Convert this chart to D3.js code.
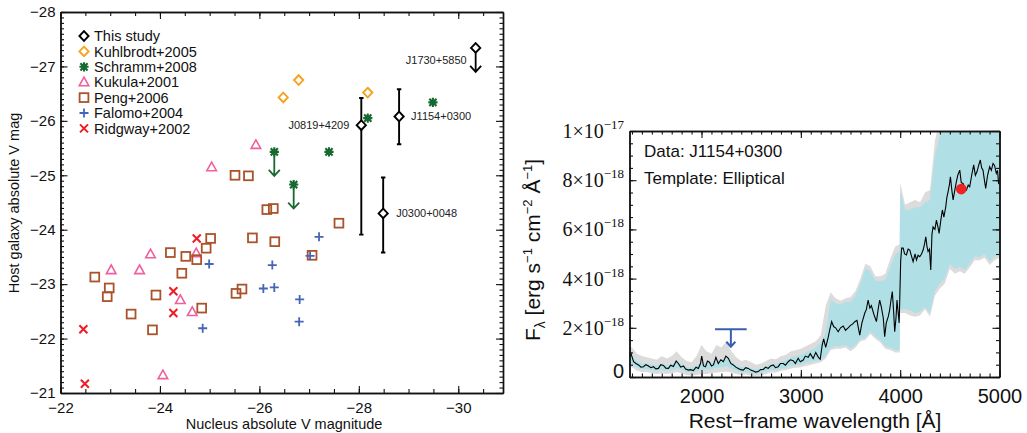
<!DOCTYPE html>
<html><head><meta charset="utf-8">
<script src="https://cdn.jsdelivr.net/npm/d3@7"></script>
<style>
html,body{margin:0;padding:0;background:#fff;}
svg{display:block;font-family:"Liberation Sans",Arial,Helvetica,sans-serif;}
</style></head><body>
<svg id="c" width="1027" height="433"></svg>
<script>
// ---------------- LEFT PANEL DATA ----------------
const legendLabels = ["This study","Kuhlbrodt+2005","Schramm+2008","Kukula+2001","Peng+2006","Falomo+2004","Ridgway+2002"];
const leftXTicks = [-22,-24,-26,-28,-30];
const leftYTicks = [-28,-27,-26,-25,-24,-23,-22,-21];

const studyNames = ["J1730+5850","J0819+4209","J1154+0300","J0300+0048"];
const studyNuc   = [-30.35,-28.05,-28.81,-28.49];
const studyHost  = [-27.34,-25.92,-26.08,-24.30];
const studyErrBright = [null,-26.42,-26.58,-24.96];
const studyErrFaint  = [null,-23.91,-25.57,-23.58];
const studyLimit = [true,false,false,false];

const kuhlNuc  = [-26.48,-26.79,-28.18];
const kuhlHost = [-26.43,-26.75,-26.52];

const schrNuc   = [-28.18,-29.49,-27.40,-26.30,-26.69];
const schrHost  = [-26.05,-26.34,-25.43,-25.43,-24.83];
const schrLimit = [false,false,false,true,true];

const kukNuc  = [-25.93,-25.04,-23.02,-23.59,-23.81,-24.41,-24.65,-24.73,-24.06];
const kukHost = [-25.56,-25.15,-23.26,-23.26,-23.55,-22.71,-22.49,-23.57,-21.33];

const pengNuc  = [-25.51,-25.78,-26.15,-26.28,-25.02,-25.86,-26.31,-24.93,-24.74,-24.52,-24.21,-24.44,-22.69,-22.98,-22.94,-23.92,-23.42,-23.85,-24.84,-25.53,-25.65,-27.06,-27.60];
const pengHost = [-25.00,-24.99,-24.37,-24.39,-23.84,-23.85,-23.78,-23.66,-23.45,-23.51,-23.58,-23.20,-23.13,-22.93,-22.77,-22.80,-22.45,-22.16,-22.56,-22.83,-22.91,-23.53,-24.12];

const falNuc  = [-24.99,-24.86,-26.26,-26.08,-26.30,-26.81,-26.80,-27.20,-27.02];
const falHost = [-23.37,-22.19,-23.35,-22.92,-22.94,-22.72,-22.31,-23.87,-23.52];

const ridNuc  = [-22.46,-22.49,-24.27,-24.27,-24.74];
const ridHost = [-22.17,-21.17,-22.87,-22.47,-23.84];

// ---------------- RIGHT PANEL DATA (flux in 1e-18 erg/s/cm2/A) ----------------
const rightXTicks = [2000,3000,4000,5000];
const rightYTickVals = [0,2,4,6,8,10];
const rightYTickMant = ["0","2","4","6","8","1"];
const rightYTickExp  = ["","−18","−18","−18","−18","−17"];

const specWave = [1275,1290,1316,1340,1366,1390,1416,1440,1466,1490,1516,1540,1566,1590,1617,1640,1667,1690,1717,1745,1767,1790,1818,1840,1868,1890,1918,1945,1968,1990,2002,2020,2040,2060,2080,2100,2120,2145,2169,2195,2220,2245,2270,2295,2320,2345,2370,2395,2421,2445,2471,2495,2521,2545,2571,2595,2622,2645,2672,2695,2722,2745,2772,2795,2823,2845,2873,2895,2923,2945,2973,2995,3024,3045,3074,3095,3124,3150,3174,3195,3215,3230,3250,3275,3290,3310,3330,3350,3376,3400,3426,3450,3476,3500,3520,3543,3565,3593,3615,3644,3660,3677,3695,3710,3735,3761,3780,3794,3810,3830,3844,3860,3880,3894,3910,3921,3935,3945,3958,3968,3980,3990,4005,4015,4030,4045,4063,4080,4097,4115,4130,4150,4164,4180,4197,4215,4231,4245,4258,4270,4281,4295,4308,4320,4331,4350,4365,4380,4392,4410,4425,4440,4459,4470,4482,4495,4506,4520,4533,4550,4566,4580,4600,4615,4633,4650,4667,4685,4700,4720,4740,4757,4774,4790,4807,4820,4834,4848,4861,4880,4901,4918,4935,4950,4968,4980,4991,5000];
const specFlux = [0.85,0.95,0.62,0.55,0.49,0.40,0.42,0.50,0.45,0.38,0.42,0.33,0.35,0.50,0.47,0.36,0.35,0.48,0.43,0.65,0.55,0.40,0.45,0.32,0.28,0.30,0.26,0.40,0.35,0.55,0.85,0.45,0.42,0.65,0.60,0.45,0.49,0.80,0.55,0.70,0.62,0.85,0.76,0.55,0.49,0.40,0.35,0.30,0.28,0.38,0.35,0.28,0.24,0.20,0.22,0.30,0.31,0.40,0.35,0.45,0.49,0.38,0.42,0.55,0.55,0.48,0.62,0.70,0.66,0.55,0.76,0.62,0.69,0.85,0.80,0.95,0.75,1.00,0.82,0.72,1.30,1.55,1.20,1.60,1.90,2.25,2.05,2.00,1.84,2.00,2.07,1.90,2.00,2.10,2.15,2.25,2.30,1.70,2.20,2.60,2.75,3.13,2.80,2.90,2.55,2.25,2.80,3.13,2.85,2.40,1.64,2.20,2.45,2.72,3.20,3.47,2.60,1.84,2.40,3.13,2.60,2.20,4.70,5.24,5.24,5.00,4.96,5.20,5.16,4.90,4.69,5.00,4.76,4.95,4.89,5.00,5.16,5.40,5.70,5.30,5.10,5.20,4.35,5.80,6.10,6.00,6.38,6.10,5.84,6.40,6.79,6.50,6.92,7.30,7.53,7.80,8.14,7.60,7.20,7.60,7.94,8.20,8.41,7.90,7.87,7.70,7.60,7.80,7.73,8.20,8.62,8.20,8.35,8.60,8.82,8.50,8.41,8.00,7.67,8.20,8.55,8.40,8.68,8.60,8.28,8.40,7.87,7.90];

const bandWave = [1275,1300,1350,1400,1450,1500,1550,1600,1650,1700,1750,1800,1850,1900,1950,2000,2050,2100,2150,2200,2250,2300,2350,2400,2450,2500,2550,2600,2650,2700,2750,2800,2850,2900,2950,3000,3050,3100,3150,3200,3250,3300,3350,3400,3450,3500,3550,3600,3650,3700,3750,3800,3850,3900,3950,3995,4000,4050,4100,4150,4200,4250,4300,4350,4400,4450,4500,4550,4600,4650,4700,4750,4800,4850,4900,4950,5000];
const templLo = [0.55,0.50,0.38,0.32,0.32,0.28,0.25,0.28,0.25,0.28,0.35,0.30,0.20,0.18,0.22,0.30,0.30,0.30,0.38,0.40,0.45,0.35,0.25,0.18,0.20,0.15,0.12,0.15,0.22,0.28,0.28,0.35,0.38,0.45,0.48,0.50,0.58,0.62,0.65,0.70,0.85,1.20,1.25,1.25,1.30,1.15,1.30,1.55,1.60,1.85,1.65,1.50,1.25,1.20,1.10,1.10,2.75,2.75,2.70,2.60,2.65,2.85,2.60,3.50,3.80,4.00,4.60,4.40,4.47,4.35,4.60,4.90,4.88,5.00,4.70,4.90,5.00];
const templHi = [0.95,0.85,0.65,0.55,0.55,0.50,0.48,0.52,0.48,0.52,0.62,0.52,0.40,0.38,0.45,0.60,0.58,0.55,0.68,0.70,0.80,0.62,0.48,0.40,0.42,0.35,0.30,0.35,0.45,0.52,0.52,0.62,0.68,0.80,0.85,0.90,1.00,1.10,1.20,1.40,1.80,3.15,3.00,2.95,3.05,3.05,3.30,3.80,4.40,4.30,3.90,3.90,3.95,4.45,5.00,5.10,7.50,6.80,6.80,6.90,6.90,7.10,7.20,9.00,9.80,10.5,10.5,10.5,10.5,10.5,10.5,10.5,10.5,10.5,10.5,10.5,10.5];
const errLo = [0.45,0.40,0.25,0.20,0.20,0.15,0.12,0.15,0.12,0.15,0.20,0.15,0.08,0.05,0.08,0.12,0.12,0.15,0.18,0.20,0.22,0.18,0.12,0.08,0.10,0.05,0.04,0.06,0.12,0.18,0.18,0.25,0.28,0.35,0.38,0.40,0.45,0.50,0.55,0.60,0.75,1.10,1.15,1.15,1.20,1.05,1.20,1.45,1.50,1.75,1.55,1.40,1.15,1.10,1.00,1.00,2.60,2.60,2.50,2.45,2.50,2.75,2.45,3.30,3.60,3.80,4.40,4.20,4.30,4.20,4.45,4.75,4.75,4.85,4.55,4.75,4.85];
const errHi = [1.25,1.20,0.95,0.85,0.80,0.75,0.70,0.85,0.75,0.85,1.05,0.80,0.65,0.60,0.85,1.30,1.05,0.95,1.30,1.20,1.45,1.05,0.80,0.65,0.70,0.60,0.50,0.55,0.65,0.75,0.72,0.85,0.90,1.05,1.10,1.15,1.25,1.35,1.45,1.70,2.90,3.45,3.20,3.10,3.20,3.25,3.50,4.00,4.60,4.50,4.10,4.10,4.20,4.80,5.30,5.40,7.90,7.00,7.10,7.20,7.10,7.50,7.60,9.60,10.5,10.5,10.5,10.5,10.5,10.5,10.5,10.5,10.5,10.5,10.5,10.5,10.5];

const photWave = [4615];
const photFlux = [7.64];
const limitWaveLo = 2136, limitWaveHi = 2455, limitFlux = 1.94, limitArrowTo = 1.23;

// ---------------- DRAW ----------------
const svg = d3.select("#c");
svg.append("rect").attr("width",1027).attr("height",433).attr("fill","#fff");

const xL = d3.scaleLinear().domain([-22,-30.9]).range([60.5,503]);
const yL = d3.scaleLinear().domain([-28,-21]).range([12,393]);

function styleAxis(g){
  g.selectAll(".domain").attr("stroke","#111").attr("stroke-width",1.4);
  g.selectAll(".tick line").attr("stroke","#111").attr("stroke-width",1.1);
}

const L = svg.append("g");
function lAxes(){
  const minorX = d3.range(-22,-30.9,-0.5);
  const minorY = d3.range(-28,-21,0.1);
  const b = L.append("g").attr("transform","translate(0,393)")
    .call(d3.axisBottom(xL).tickValues(leftXTicks).tickSize(-7).tickSizeOuter(0).tickPadding(9).tickFormat(d3.format("d")));
  b.selectAll("text").attr("font-size",15).attr("fill","#111");
  styleAxis(b);
  styleAxis(L.append("g").attr("transform","translate(0,393)")
    .call(d3.axisBottom(xL).tickValues(minorX).tickSize(-4).tickSizeOuter(0).tickFormat("")));
  styleAxis(L.append("g").attr("transform","translate(0,12)")
    .call(d3.axisTop(xL).tickValues(leftXTicks).tickSize(-7).tickSizeOuter(0).tickFormat("")));
  styleAxis(L.append("g").attr("transform","translate(0,12)")
    .call(d3.axisTop(xL).tickValues(minorX).tickSize(-4).tickSizeOuter(0).tickFormat("")));
  const l = L.append("g").attr("transform","translate(60.5,0)")
    .call(d3.axisLeft(yL).tickValues(leftYTicks).tickSize(-7).tickSizeOuter(0).tickPadding(5).tickFormat(d3.format("d")));
  l.selectAll("text").attr("font-size",15).attr("fill","#111");
  styleAxis(l);
  styleAxis(L.append("g").attr("transform","translate(60.5,0)")
    .call(d3.axisLeft(yL).tickValues(minorY).tickSize(-3.5).tickSizeOuter(0).tickFormat("")));
  styleAxis(L.append("g").attr("transform","translate(503,0)")
    .call(d3.axisRight(yL).tickValues(leftYTicks).tickSize(-7).tickSizeOuter(0).tickFormat("")));
  styleAxis(L.append("g").attr("transform","translate(503,0)")
    .call(d3.axisRight(yL).tickValues(minorY).tickSize(-3.5).tickSizeOuter(0).tickFormat("")));
  L.append("text").attr("x",284).attr("y",429).attr("text-anchor","middle").attr("font-size",14.5).attr("fill","#111")
    .text("Nucleus absolute V magnitude");
  L.append("text").attr("transform","translate(19,203) rotate(-90)").attr("text-anchor","middle").attr("font-size",14.5).attr("fill","#111")
    .text("Host galaxy absolute V mag");
}
lAxes();

const C = {study:"#000", kuhl:"#f8a21c", schr:"#17692f", kuk:"#f0609e", peng:"#a9532a", fal:"#4566b8", rid:"#ee1c24"};

function sym(g,type,cx,cy,color){
  const s = g.append("g").attr("fill","none").attr("stroke",color).attr("stroke-width",1.8);
  if(type==="diamond"){
    s.append("path").attr("d",`M${cx},${cy-4.8}L${cx+4.6},${cy}L${cx},${cy+4.8}L${cx-4.6},${cy}Z`).attr("stroke-width",1.9);
  } else if(type==="square"){
    s.append("rect").attr("x",cx-4.4).attr("y",cy-4.4).attr("width",8.8).attr("height",8.8);
  } else if(type==="triangle"){
    s.append("path").attr("d",`M${cx},${cy-5}L${cx+4.8},${cy+3.6}L${cx-4.8},${cy+3.6}Z`).attr("stroke-width",1.6);
  } else if(type==="plus"){
    s.append("path").attr("d",`M${cx-4.5},${cy}H${cx+4.5}M${cx},${cy-4.5}V${cy+4.5}`).attr("stroke-width",1.8);
  } else if(type==="cross"){
    s.append("path").attr("d",`M${cx-4},${cy-4}L${cx+4},${cy+4}M${cx-4},${cy+4}L${cx+4},${cy-4}`).attr("stroke-width",2);
  } else if(type==="aster"){
    s.append("path").attr("d",`M${cx-4.6},${cy}H${cx+4.6}M${cx},${cy-4.6}V${cy+4.6}M${cx-3.6},${cy-3.6}L${cx+3.6},${cy+3.6}M${cx-3.6},${cy+3.6}L${cx+3.6},${cy-3.6}`).attr("stroke-width",2.1);
    s.append("rect").attr("x",cx-2.4).attr("y",cy-2.4).attr("width",4.8).attr("height",4.8).attr("fill",color).attr("stroke","none");
  }
}
function downArrow(g,cx,y0,y1,color){
  g.append("path").attr("d",`M${cx},${y0}V${y1}M${cx-5.5},${y1-6}L${cx},${y1}L${cx+5.5},${y1-6}`)
    .attr("fill","none").attr("stroke",color).attr("stroke-width",1.8);
}

const P = L.append("g");
kukNuc.forEach((v,i)=>sym(P,"triangle",xL(v),yL(kukHost[i]),C.kuk));
pengNuc.forEach((v,i)=>sym(P,"square",xL(v),yL(pengHost[i]),C.peng));
falNuc.forEach((v,i)=>sym(P,"plus",xL(v),yL(falHost[i]),C.fal));
ridNuc.forEach((v,i)=>sym(P,"cross",xL(v),yL(ridHost[i]),C.rid));
kuhlNuc.forEach((v,i)=>sym(P,"diamond",xL(v),yL(kuhlHost[i]),C.kuhl));
schrNuc.forEach((v,i)=>{
  const cx=xL(v), cy=yL(schrHost[i]);
  if(schrLimit[i]) downArrow(P,cx,cy+3,cy+24,C.schr);
  sym(P,"aster",cx,cy,C.schr);
});
const labelLayout = [{dx:-9,dy:12,anchor:"end"},{dx:-12,dy:0,anchor:"end"},{dx:12,dy:0,anchor:"start"},{dx:13,dy:0,anchor:"start"}];
studyNuc.forEach((v,i)=>{
  const cx=xL(v), cy=yL(studyHost[i]);
  if(studyErrBright[i]!==null){
    const y0=yL(studyErrBright[i]), y1=yL(studyErrFaint[i]);
    P.append("path").attr("d",`M${cx},${y0}V${y1}M${cx-2.2},${y0}H${cx+2.2}M${cx-2.2},${y1}H${cx+2.2}`)
      .attr("stroke","#000").attr("stroke-width",1.9).attr("fill","none");
  }
  if(studyLimit[i]) downArrow(P,cx,cy+4,cy+24,"#000");
  P.append("path").attr("d",`M${cx},${cy-4.8}L${cx+4.6},${cy}L${cx},${cy+4.8}L${cx-4.6},${cy}Z`)
    .attr("fill","#fff").attr("stroke","#000").attr("stroke-width",1.9);
  const lo=labelLayout[i];
  P.append("text").attr("x",cx+lo.dx).attr("y",cy+lo.dy).attr("dy","0.35em").attr("text-anchor",lo.anchor)
    .attr("font-size",11).attr("fill","#222").text(studyNames[i]);
});

const legTypes = ["diamond","diamond","aster","triangle","square","plus","cross"];
const legColors = [C.study,C.kuhl,C.schr,C.kuk,C.peng,C.fal,C.rid];
legendLabels.forEach((lab,i)=>{
  const y = 36 + i*15.4;
  sym(L,legTypes[i],84,y,legColors[i]);
  L.append("text").attr("x",94).attr("y",y).attr("dy","0.36em").attr("font-size",14.5).attr("fill","#111").text(lab);
});

// ---------------- RIGHT PANEL ----------------
const xR = d3.scaleLinear().domain([1275,5000]).range([629.5,999.5]);
const yR = d3.scaleLinear().domain([0,10]).range([377,131]);
const R = svg.append("g");
R.append("defs").append("clipPath").attr("id","clipR").append("rect")
  .attr("x",629.5).attr("y",131).attr("width",370).attr("height",246);
const plot = R.append("g").attr("clip-path","url(#clipR)");
const bandIdx = d3.range(bandWave.length);
plot.append("path").datum(bandIdx)
  .attr("d",d3.area().x(i=>xR(bandWave[i])).y0(i=>yR(errLo[i])).y1(i=>yR(errHi[i])))
  .attr("fill","#dcdcdc");
plot.append("path").datum(bandIdx)
  .attr("d",d3.area().x(i=>xR(bandWave[i])).y0(i=>yR(templLo[i])).y1(i=>yR(templHi[i])))
  .attr("fill","#b0e0e6");
plot.append("path").datum(d3.range(specWave.length))
  .attr("d",d3.line().x(i=>xR(specWave[i])).y(i=>yR(specFlux[i])))
  .attr("fill","none").attr("stroke","#000").attr("stroke-width",1.1);
photWave.forEach((w,i)=>{
  plot.append("circle").attr("cx",xR(w)).attr("cy",yR(photFlux[i])).attr("r",5.4).attr("fill","#f02222");
});
const lx = xR((limitWaveLo+limitWaveHi)/2);
R.append("path").attr("d",`M${xR(limitWaveLo)},${yR(limitFlux)}H${xR(limitWaveHi)}M${lx},${yR(limitFlux)}V${yR(limitArrowTo)}M${lx-4.5},${yR(limitArrowTo)-5}L${lx},${yR(limitArrowTo)}L${lx+4.5},${yR(limitArrowTo)-5}`)
  .attr("fill","none").attr("stroke","#3a5fb0").attr("stroke-width",2);

(function(){
  const minorX = d3.range(1300,5000,100);
  const minorY = d3.range(0,10,0.5);
  const b = R.append("g").attr("transform","translate(0,377)")
    .call(d3.axisBottom(xR).tickValues(rightXTicks).tickSize(-7).tickSizeOuter(0).tickPadding(12).tickFormat(d3.format("d")));
  b.selectAll("text").attr("font-size",20).attr("fill","#111");
  styleAxis(b);
  styleAxis(R.append("g").attr("transform","translate(0,377)")
    .call(d3.axisBottom(xR).tickValues(minorX).tickSize(-3.5).tickSizeOuter(0).tickFormat("")));
  styleAxis(R.append("g").attr("transform","translate(0,131)")
    .call(d3.axisTop(xR).tickValues(rightXTicks).tickSize(-7).tickSizeOuter(0).tickFormat("")));
  styleAxis(R.append("g").attr("transform","translate(0,131)")
    .call(d3.axisTop(xR).tickValues(minorX).tickSize(-3.5).tickSizeOuter(0).tickFormat("")));
  styleAxis(R.append("g").attr("transform","translate(629.5,0)")
    .call(d3.axisLeft(yR).tickValues(rightYTickVals).tickSize(-7).tickSizeOuter(0).tickFormat("")));
  styleAxis(R.append("g").attr("transform","translate(629.5,0)")
    .call(d3.axisLeft(yR).tickValues(minorY).tickSize(-3.5).tickSizeOuter(0).tickFormat("")));
  styleAxis(R.append("g").attr("transform","translate(999.5,0)")
    .call(d3.axisRight(yR).tickValues(rightYTickVals).tickSize(-7).tickSizeOuter(0).tickFormat("")));
  styleAxis(R.append("g").attr("transform","translate(999.5,0)")
    .call(d3.axisRight(yR).tickValues(minorY).tickSize(-3.5).tickSizeOuter(0).tickFormat("")));
  rightYTickVals.forEach((v,i)=>{
    const t = R.append("text").attr("x",624).attr("y",yR(v)+7).attr("text-anchor","end").attr("fill","#111");
    if(rightYTickExp[i]===""){
      t.attr("font-size",20).attr("y",yR(v)+1).text(rightYTickMant[i]);
    } else {
      t.attr("font-family","'Liberation Serif','Times New Roman',serif").attr("font-size",20);
      t.append("tspan").text(rightYTickMant[i]+"×10");
      t.append("tspan").attr("dy",-9).attr("font-size",13).text(rightYTickExp[i]);
    }
  });
  R.append("text").attr("x",815).attr("y",428).attr("text-anchor","middle").attr("font-size",21).attr("fill","#111")
    .text("Rest−frame wavelength [Å]");
  const yt = R.append("text").attr("transform","translate(540,250) rotate(-90)").attr("text-anchor","middle").attr("font-size",21).attr("fill","#111");
  yt.append("tspan").text("F");
  yt.append("tspan").attr("dy",5).attr("font-size",14).text("λ");
  yt.append("tspan").attr("dy",-5).text(" [erg s");
  yt.append("tspan").attr("dy",-8).attr("font-size",13).text("−1");
  yt.append("tspan").attr("dy",8).text(" cm");
  yt.append("tspan").attr("dy",-8).attr("font-size",13).text("−2");
  yt.append("tspan").attr("dy",8).text(" Å");
  yt.append("tspan").attr("dy",-8).attr("font-size",13).text("−1");
  yt.append("tspan").attr("dy",8).text("]");
  R.append("text").attr("x",644).attr("y",157).attr("font-size",17).attr("fill","#111").text("Data: J1154+0300");
  R.append("text").attr("x",644).attr("y",184).attr("font-size",17).attr("fill","#111").text("Template: Elliptical");
})();
</script>
</body></html>
